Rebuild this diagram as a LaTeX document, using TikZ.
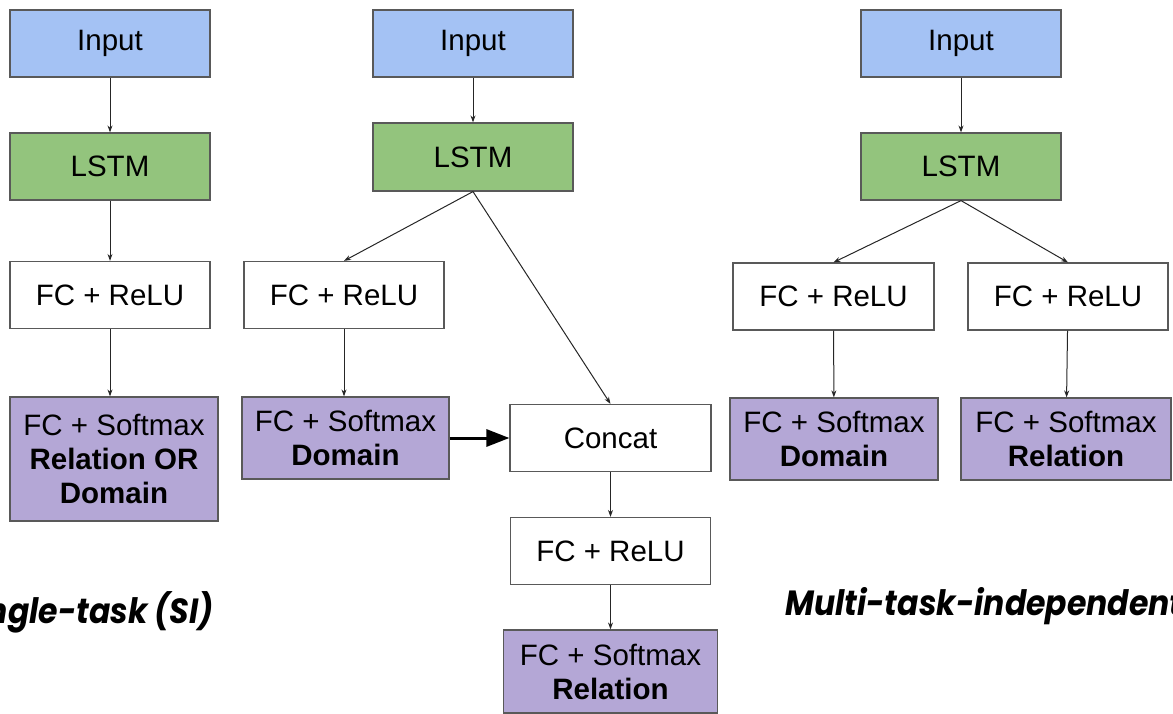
\documentclass[tikz,border=0pt]{standalone}
\usepackage{fontspec}
\setmainfont{Liberation Sans}
\newfontfamily\capfont[FakeStretch=0.9]{Poppins}
\usetikzlibrary{arrows.meta}
\definecolor{inblue}{HTML}{A4C2F4}
\definecolor{lstmgreen}{HTML}{93C47D}
\definecolor{outpurple}{HTML}{B4A7D6}
\definecolor{edgegray}{HTML}{595959}
\tikzset{
  blk/.style={draw=edgegray, line width=1.2pt, minimum width=200pt, minimum height=67pt,
    inner sep=0pt, align=center, font=\fontsize{29.5}{34}\selectfont},
  inbox/.style={blk, fill=inblue},
  lstmbox/.style={blk, fill=lstmgreen},
  relubox/.style={blk, fill=white},
  outbox/.style={blk, fill=outpurple},
  link/.style={draw=black!85, line width=1pt, -{Stealth[length=7pt,width=5pt]}},
  boldlink/.style={draw=black, line width=3pt, -{Triangle[length=23pt,width=17pt]}},
  caption/.style={inner sep=0pt, font=\capfont\bfseries\itshape\fontsize{35}{40}\selectfont}
}
\begin{document}
\begin{tikzpicture}[x=1pt, y=-1pt]
\useasboundingbox (0,0) rectangle (1173,714);
\clip (0,0) rectangle (1173,714);

% single-task model
\node[inbox]   (s_in)   at (110,43.5)  {Input};
\node[lstmbox] (s_lstm) at (110,166.5) {LSTM};
\node[relubox] (s_relu) at (110,295)   {FC + ReLU};
\node[outbox, minimum width=208pt, minimum height=124pt] (s_out) at (114,459)
  {FC + Softmax\\\textbf{Relation OR}\\\textbf{Domain}};
\node[caption, anchor=base east] (s_cap) at (214,623) {Single-task (SI)};

\draw[link] (s_in) -- (s_lstm);
\draw[link] (s_lstm) -- (s_relu);
\draw[link] (s_relu.south) -- (s_relu.south |- s_out.north);

% multi-task model with domain fed into relation branch
\node[inbox]   (m_in)   at (473,43.5) {Input};
\node[lstmbox, minimum height=68pt] (m_lstm) at (473,157) {LSTM};
\node[relubox] (m_relu) at (344,295) {FC + ReLU};
\node[outbox, minimum width=207pt, minimum height=82pt] (m_dom) at (345.5,438)
  {FC + Softmax\\\textbf{Domain}};
\node[relubox, minimum width=201pt] (m_cat) at (610.5,438) {Concat};
\node[relubox] (m_relu2) at (610.5,551) {FC + ReLU};
\node[outbox, minimum width=214pt, minimum height=83pt] (m_rel) at (610.5,671.5)
  {FC + Softmax\\\textbf{Relation}};

\draw[link] (m_in) -- (m_lstm);
\draw[link] (m_lstm.south) -- (m_relu.north);
\draw[link] (m_lstm.south) -- (m_cat.north);
\draw[link] (m_relu) -- (m_relu.south |- m_dom.north);
\draw[boldlink] (m_dom) -- (m_cat);
\draw[link] (m_cat) -- (m_relu2);
\draw[link] (m_relu2) -- (m_rel);

% multi-task model with independent heads
\node[inbox]   (i_in)   at (961,43.5)  {Input};
\node[lstmbox] (i_lstm) at (961,166.5) {LSTM};
\node[relubox, minimum width=201pt] (i_relu1) at (833.5,296.5) {FC + ReLU};
\node[relubox] (i_relu2) at (1068,296.5) {FC + ReLU};
\node[outbox, minimum width=208pt, minimum height=82pt] (i_dom) at (834,439)
  {FC + Softmax\\\textbf{Domain}};
\node[outbox, minimum width=210pt, minimum height=82pt] (i_rel) at (1066,439)
  {FC + Softmax\\\textbf{Relation}};
\node[caption, anchor=base west] (i_cap) at (785,615) {Multi-task-independent};

\draw[link] (i_in) -- (i_lstm);
\draw[link] (i_lstm.south) -- (i_relu1.north);
\draw[link] (i_lstm.south) -- (i_relu2.north);
\draw[link] (i_relu1) -- (i_dom);
\draw[link] (i_relu2) -- (i_rel);
\end{tikzpicture}
\end{document}
